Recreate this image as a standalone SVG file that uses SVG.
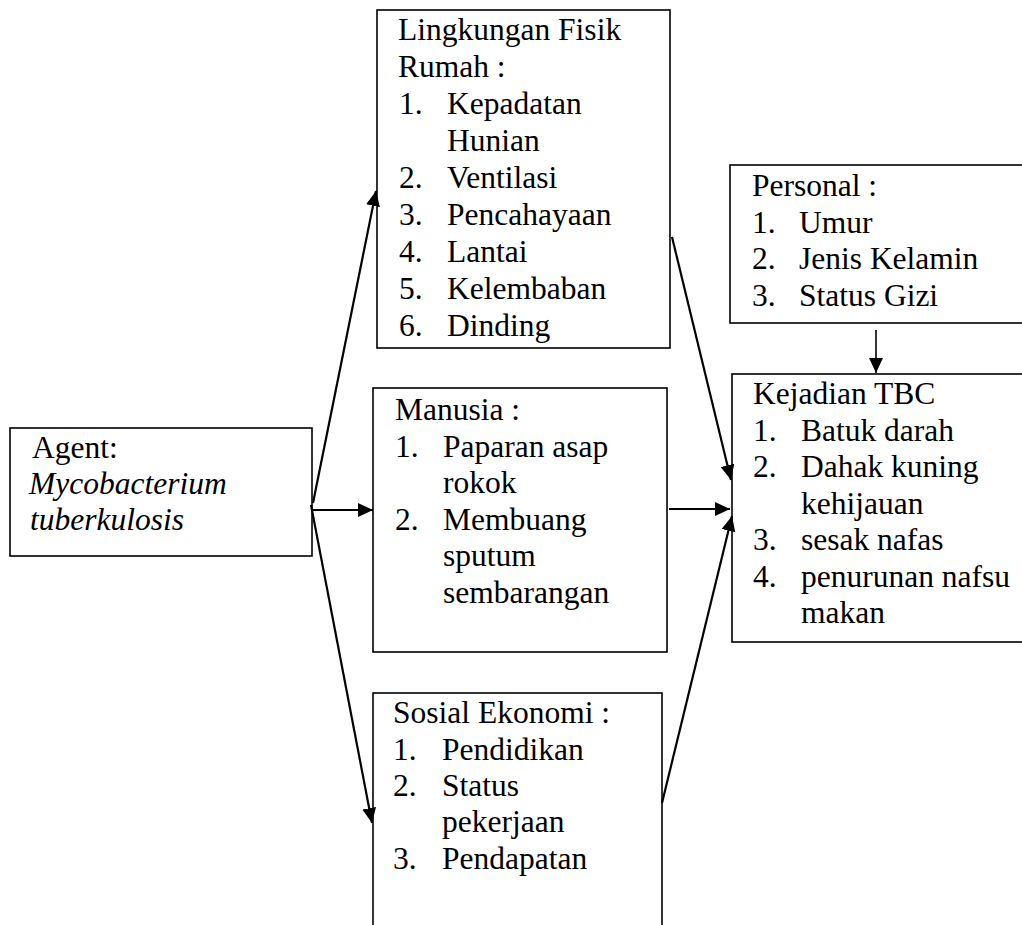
<svg xmlns="http://www.w3.org/2000/svg" width="1022" height="925" viewBox="0 0 1022 925">
<style>
.box{fill:#fff;stroke:#000;stroke-width:1.6}
.t{font-family:"Liberation Serif",serif;font-size:31.5px;fill:#000}
.i{font-style:italic}
.c{stroke:#000;stroke-width:2.2;fill:none}
.c2{stroke:#000;stroke-width:1.6;fill:none}
</style>
<defs>
<marker id="ah" markerUnits="userSpaceOnUse" markerWidth="16" markerHeight="16" viewBox="0 0 16 16" refX="15" refY="8" orient="auto">
<path d="M0,1 L15,8 L0,15 Z" fill="#000"/>
</marker>
</defs>
<rect width="1022" height="925" fill="#fff"/>
<g id="agent">
<rect class="box" x="10" y="428" width="302" height="128"/>
<text class="t" x="32" y="458">Agent:</text>
<text class="t i" x="29" y="494">Mycobacterium</text>
<text class="t i" x="30" y="530">tuberkulosis</text>
</g>
<g id="lingkungan">
<rect class="box" x="377" y="10" width="293" height="338"/>
<text class="t" x="398" y="40">Lingkungan Fisik</text>
<text class="t" x="398" y="77">Rumah :</text>
<text class="t" x="399" y="114">1.</text><text class="t" x="447" y="114">Kepadatan</text>
<text class="t" x="447" y="151">Hunian</text>
<text class="t" x="399" y="188">2.</text><text class="t" x="447" y="188">Ventilasi</text>
<text class="t" x="399" y="225">3.</text><text class="t" x="447" y="225">Pencahayaan</text>
<text class="t" x="399" y="262">4.</text><text class="t" x="447" y="262">Lantai</text>
<text class="t" x="399" y="299">5.</text><text class="t" x="447" y="299">Kelembaban</text>
<text class="t" x="399" y="336">6.</text><text class="t" x="447" y="336">Dinding</text>
</g>
<g id="manusia">
<rect class="box" x="373" y="388" width="294" height="264"/>
<text class="t" x="395" y="420">Manusia :</text>
<text class="t" x="395" y="457">1.</text><text class="t" x="443" y="457">Paparan asap</text>
<text class="t" x="443" y="493">rokok</text>
<text class="t" x="395" y="530">2.</text><text class="t" x="443" y="530">Membuang</text>
<text class="t" x="443" y="566">sputum</text>
<text class="t" x="443" y="603">sembarangan</text>
</g>
<g id="sosial">
<rect class="box" x="373" y="693" width="289" height="300"/>
<text class="t" x="393" y="723">Sosial Ekonomi :</text>
<text class="t" x="393" y="760">1.</text><text class="t" x="442" y="760">Pendidikan</text>
<text class="t" x="393" y="796">2.</text><text class="t" x="442" y="796">Status</text>
<text class="t" x="442" y="832">pekerjaan</text>
<text class="t" x="393" y="869">3.</text><text class="t" x="442" y="869">Pendapatan</text>
</g>
<g id="personal">
<rect class="box" x="730" y="165" width="320" height="158"/>
<text class="t" x="752" y="196">Personal :</text>
<text class="t" x="752" y="233">1.</text><text class="t" x="799" y="233">Umur</text>
<text class="t" x="752" y="269">2.</text><text class="t" x="799" y="269">Jenis Kelamin</text>
<text class="t" x="752" y="306">3.</text><text class="t" x="799" y="306">Status Gizi</text>
</g>
<g id="kejadian">
<rect class="box" x="732" y="374" width="320" height="268"/>
<text class="t" x="753" y="404">Kejadian TBC</text>
<text class="t" x="753" y="441">1.</text><text class="t" x="801" y="441">Batuk darah</text>
<text class="t" x="753" y="477">2.</text><text class="t" x="801" y="477">Dahak kuning</text>
<text class="t" x="801" y="514">kehijauan</text>
<text class="t" x="753" y="550">3.</text><text class="t" x="801" y="550">sesak nafas</text>
<text class="t" x="753" y="587">4.</text><text class="t" x="801" y="587">penurunan nafsu</text>
<text class="t" x="801" y="623">makan</text>
</g>
<g id="connectors">
<line class="c" x1="313" y1="503" x2="376" y2="191" marker-end="url(#ah)"/>
<line class="c" x1="313" y1="510" x2="373" y2="510" marker-end="url(#ah)"/>
<line class="c" x1="311" y1="505" x2="372" y2="823" marker-end="url(#ah)"/>
<line class="c" x1="672" y1="237" x2="731" y2="480" marker-end="url(#ah)"/>
<line class="c" x1="669" y1="509" x2="730" y2="509" marker-end="url(#ah)"/>
<line class="c" x1="662" y1="803" x2="732" y2="516" marker-end="url(#ah)"/>
<line class="c2" x1="876" y1="330" x2="876" y2="373" marker-end="url(#ah)"/>
</g>
</svg>
